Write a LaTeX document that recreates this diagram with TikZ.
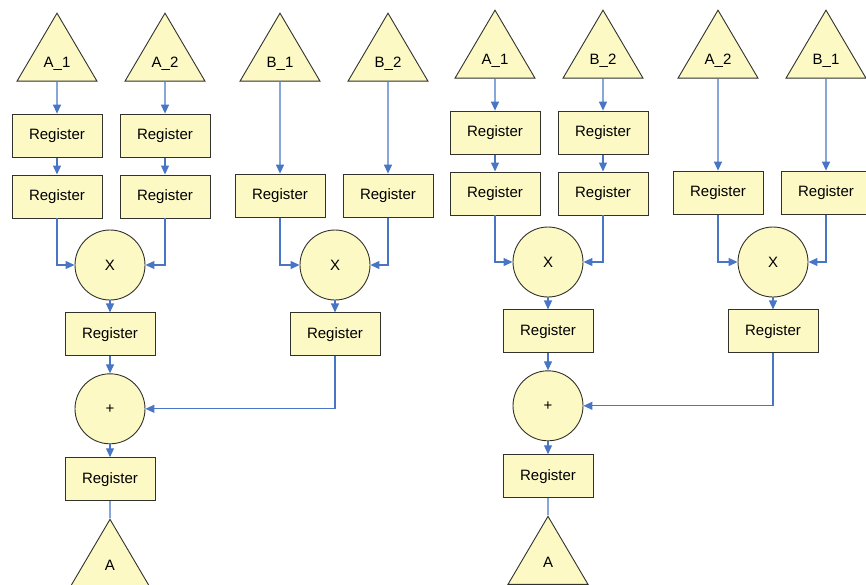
\documentclass[tikz,border=0pt]{standalone}
\usepackage{fontspec}
\setmainfont{Liberation Sans}
\usetikzlibrary{shapes.geometric, arrows.meta, positioning}
\definecolor{boxfill}{RGB}{252,249,196}
\definecolor{wireblue}{RGB}{72,118,196}
\definecolor{edgegray}{RGB}{50,50,45}

\begin{document}
\begin{tikzpicture}[x=1pt,y=1pt,
	reg/.style={rectangle,draw=edgegray,fill=boxfill,line width=0.9pt,minimum width=90pt,minimum height=43pt,inner sep=0pt,font=\fontsize{15}{18}\selectfont},
	port/.style={isosceles triangle,shape border rotate=90,isosceles triangle stretches,draw=edgegray,fill=boxfill,line width=0.9pt,minimum width=80pt,minimum height=68pt,inner sep=0pt,font=\fontsize{15}{18}\selectfont},
	op/.style={circle,draw=edgegray,fill=boxfill,line width=0.9pt,minimum size=70pt,inner sep=0pt,font=\fontsize{15}{18}\selectfont},
	wire/.style={draw=wireblue,line width=1.2pt},
	>={Triangle[length=9pt,width=8pt]},node distance=17pt]
	\useasboundingbox (0,0) rectangle (866,-584);
	% left tree
	\node[port,anchor=north] (la1) at (57,-12) {A\_1};
	\node[port,anchor=north] (la2) at (165,-12) {A\_2};
	\node[port,anchor=north] (lb1) at (280,-12) {B\_1};
	\node[port,anchor=north] (lb2) at (388,-12) {B\_2};
	\node[reg,below=32pt of la1] (lra1) {Register};
	\node[reg,below=of lra1] (lra1b) {Register};
	\node[reg,below=32pt of la2] (lra2) {Register};
	\node[reg,below=of lra2] (lra2b) {Register};
	\node[reg,below=92pt of lb1] (lrb1) {Register};
	\node[reg,below=92pt of lb2] (lrb2) {Register};
	\node[op] (lmul1) at (110,-265) {X};
	\node[op] (lmul2) at (335,-265) {X};
	\node[reg,below=12pt of lmul1] (lrm1) {Register};
	\node[reg,below=12pt of lmul2] (lrm2) {Register};
	\node[op,below=of lrm1] (ladd) {+};
	\node[reg,below=13pt of ladd] (lrout) {Register};
	\node[port,below=of lrout] (lout) {A};
	
	% right tree
	\begin{scope}[xshift=438pt,yshift=3pt]
	\node[port,anchor=north] (ra1) at (57,-12) {A\_1};
	\node[port,anchor=north] (rb2) at (165,-12) {B\_2};
	\node[port,anchor=north] (ra2) at (280,-12) {A\_2};
	\node[port,anchor=north] (rb1) at (388,-12) {B\_1};
	\node[reg,below=32pt of ra1] (rra1) {Register};
	\node[reg,below=of rra1] (rra1b) {Register};
	\node[reg,below=32pt of rb2] (rrb2) {Register};
	\node[reg,below=of rrb2] (rrb2b) {Register};
	\node[reg,below=92pt of ra2] (rra2) {Register};
	\node[reg,below=92pt of rb1] (rrb1) {Register};
	\node[op] (rmul1) at (110,-265) {X};
	\node[op] (rmul2) at (335,-265) {X};
	\node[reg,below=12pt of rmul1] (rrm1) {Register};
	\node[reg,below=12pt of rmul2] (rrm2) {Register};
	\node[op,below=of rrm1] (radd) {+};
	\node[reg,below=13pt of radd] (rrout) {Register};
	\node[port,below=of rrout] (rout) {A};
	\end{scope}
	
	\draw[wire,->] (la1) -- (lra1);
	\draw[wire,->] (lra1) -- (lra1b);
	\draw[wire,->] (lra1b) |- (lmul1);
	\draw[wire,->] (la2) -- (lra2);
	\draw[wire,->] (lra2) -- (lra2b);
	\draw[wire,->] (lra2b) |- (lmul1);
	\draw[wire,->] (lb1) -- (lrb1);
	\draw[wire,->] (lrb1) |- (lmul2);
	\draw[wire,->] (lb2) -- (lrb2);
	\draw[wire,->] (lrb2) |- (lmul2);
	\draw[wire,->] (lmul1) -- (lrm1);
	\draw[wire,->] (lmul2) -- (lrm2);
	\draw[wire,->] (lrm1) -- (ladd);
	\draw[wire,->] (lrm2) |- (ladd);
	\draw[wire,->] (ladd) -- (lrout);
	\draw[wire] (lrout) -- (lout);
	
	\draw[wire,->] (ra1) -- (rra1);
	\draw[wire,->] (rra1) -- (rra1b);
	\draw[wire,->] (rra1b) |- (rmul1);
	\draw[wire,->] (rb2) -- (rrb2);
	\draw[wire,->] (rrb2) -- (rrb2b);
	\draw[wire,->] (rrb2b) |- (rmul1);
	\draw[wire,->] (ra2) -- (rra2);
	\draw[wire,->] (rra2) |- (rmul2);
	\draw[wire,->] (rb1) -- (rrb1);
	\draw[wire,->] (rrb1) |- (rmul2);
	\draw[wire,->] (rmul1) -- (rrm1);
	\draw[wire,->] (rmul2) -- (rrm2);
	\draw[wire,->] (rrm1) -- (radd);
	\draw[wire,->] (rrm2) |- (radd);
	\draw[wire,->] (radd) -- (rrout);
	\draw[wire] (rrout) -- (rout);
\end{tikzpicture}
\end{document}
